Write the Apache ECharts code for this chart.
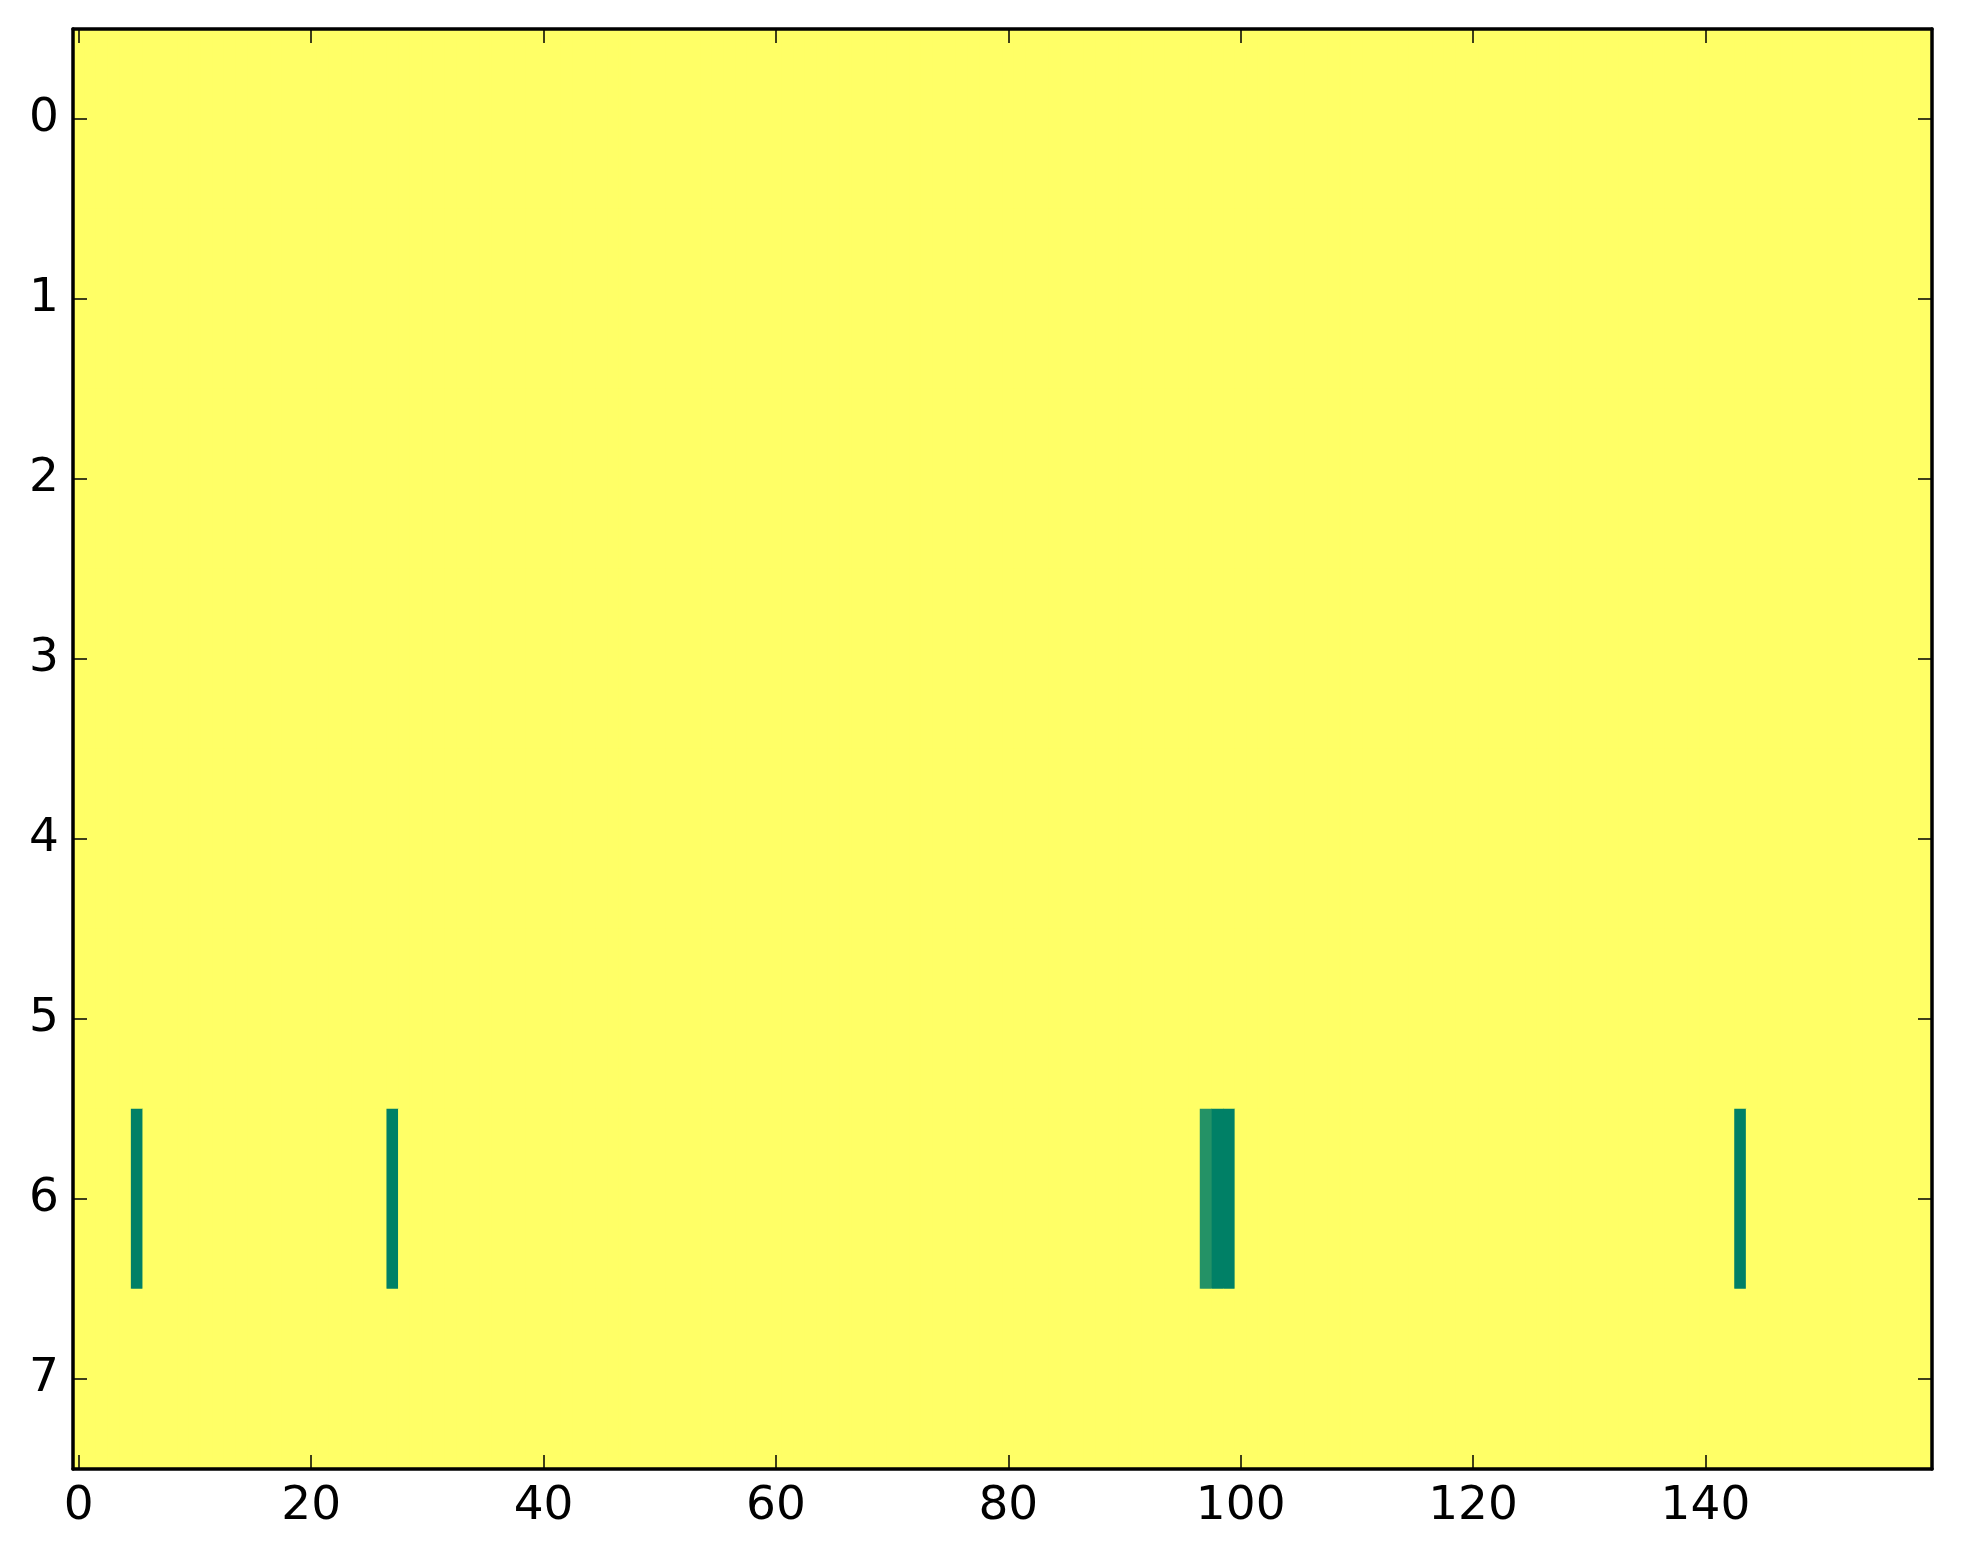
<!DOCTYPE html>
<html>
<head>
<meta charset="utf-8">
<script src="https://cdn.jsdelivr.net/npm/echarts@6/dist/echarts.min.js"></script>
<style>html,body{margin:0;padding:0;background:#fff;}#c{width:1963px;height:1564px;}</style>
</head>
<body>
<div id="c"></div>
<script>
// ---- data ----
const xCategories = Array.from({length: 160}, (_, i) => String(i));
const yCategories = ['0', '1', '2', '3', '4', '5', '6', '7'];
const baseValue = 1;               // value of every cell not listed below
const specialRow = 6;
const specialCols = [5, 27, 97, 98, 99, 143];
const specialValues = [0, 0, 0.14, 0, 0, 0];
const colorMin = 0, colorMax = 1;

// ---- build cells ----
const cells = [];
for (let r = 0; r < yCategories.length; r++) {
  for (let c = 0; c < xCategories.length; c++) {
    let v = baseValue;
    if (r === specialRow) {
      const k = specialCols.indexOf(c);
      if (k >= 0) v = specialValues[k];
    }
    cells.push([c, r, v]);
  }
}

const font = 'DejaVu Sans';
const fs = 47;
const chart = echarts.init(document.getElementById('c'), null, {renderer: 'canvas'});
const lineStyle = {color: '#000', width: 3.5};
const tickStyle = {color: '#000', width: 1.5};
chart.setOption({
  backgroundColor: '#fff',
  animation: false,
  grid: {left: 73, right: 31, top: 29, bottom: 95, show: true, backgroundColor: '#ffff66', borderWidth: 0},
  visualMap: {show: false, min: colorMin, max: colorMax, dimension: 2, inRange: {color: ['#008066', '#ffff66']}},
  xAxis: [
    {type: 'category', data: xCategories, position: 'bottom', z: 10,
     axisLine: {show: true, onZero: false, lineStyle},
     axisTick: {show: true, inside: true, alignWithLabel: true, interval: 19, length: 14, lineStyle: tickStyle},
     axisLabel: {interval: 19, fontFamily: font, fontSize: fs, color: '#000', margin: 14},
     splitLine: {show: false}},
    {type: 'category', data: xCategories, position: 'top', z: 10,
     axisLine: {show: true, onZero: false, lineStyle},
     axisTick: {show: true, inside: true, alignWithLabel: true, interval: 19, length: 14, lineStyle: tickStyle},
     axisLabel: {show: false}, splitLine: {show: false}}
  ],
  yAxis: [
    {type: 'category', data: yCategories, inverse: true, position: 'left', z: 10,
     axisLine: {show: true, onZero: false, lineStyle},
     axisTick: {show: true, inside: true, alignWithLabel: true, interval: 0, length: 14, lineStyle: tickStyle},
     axisLabel: {interval: 0, fontFamily: font, fontSize: fs, color: '#000', margin: 14},
     splitLine: {show: false}},
    {type: 'category', data: yCategories, inverse: true, position: 'right', z: 10,
     axisLine: {show: true, onZero: false, lineStyle},
     axisTick: {show: true, inside: true, alignWithLabel: true, interval: 0, length: 14, lineStyle: tickStyle},
     axisLabel: {show: false}, splitLine: {show: false}}
  ],
  series: [{
    type: 'heatmap', xAxisIndex: 0, yAxisIndex: 0,
    data: cells,
    itemStyle: {borderWidth: 0},
    emphasis: {disabled: true}
  }]
});
</script>
</body>
</html>
